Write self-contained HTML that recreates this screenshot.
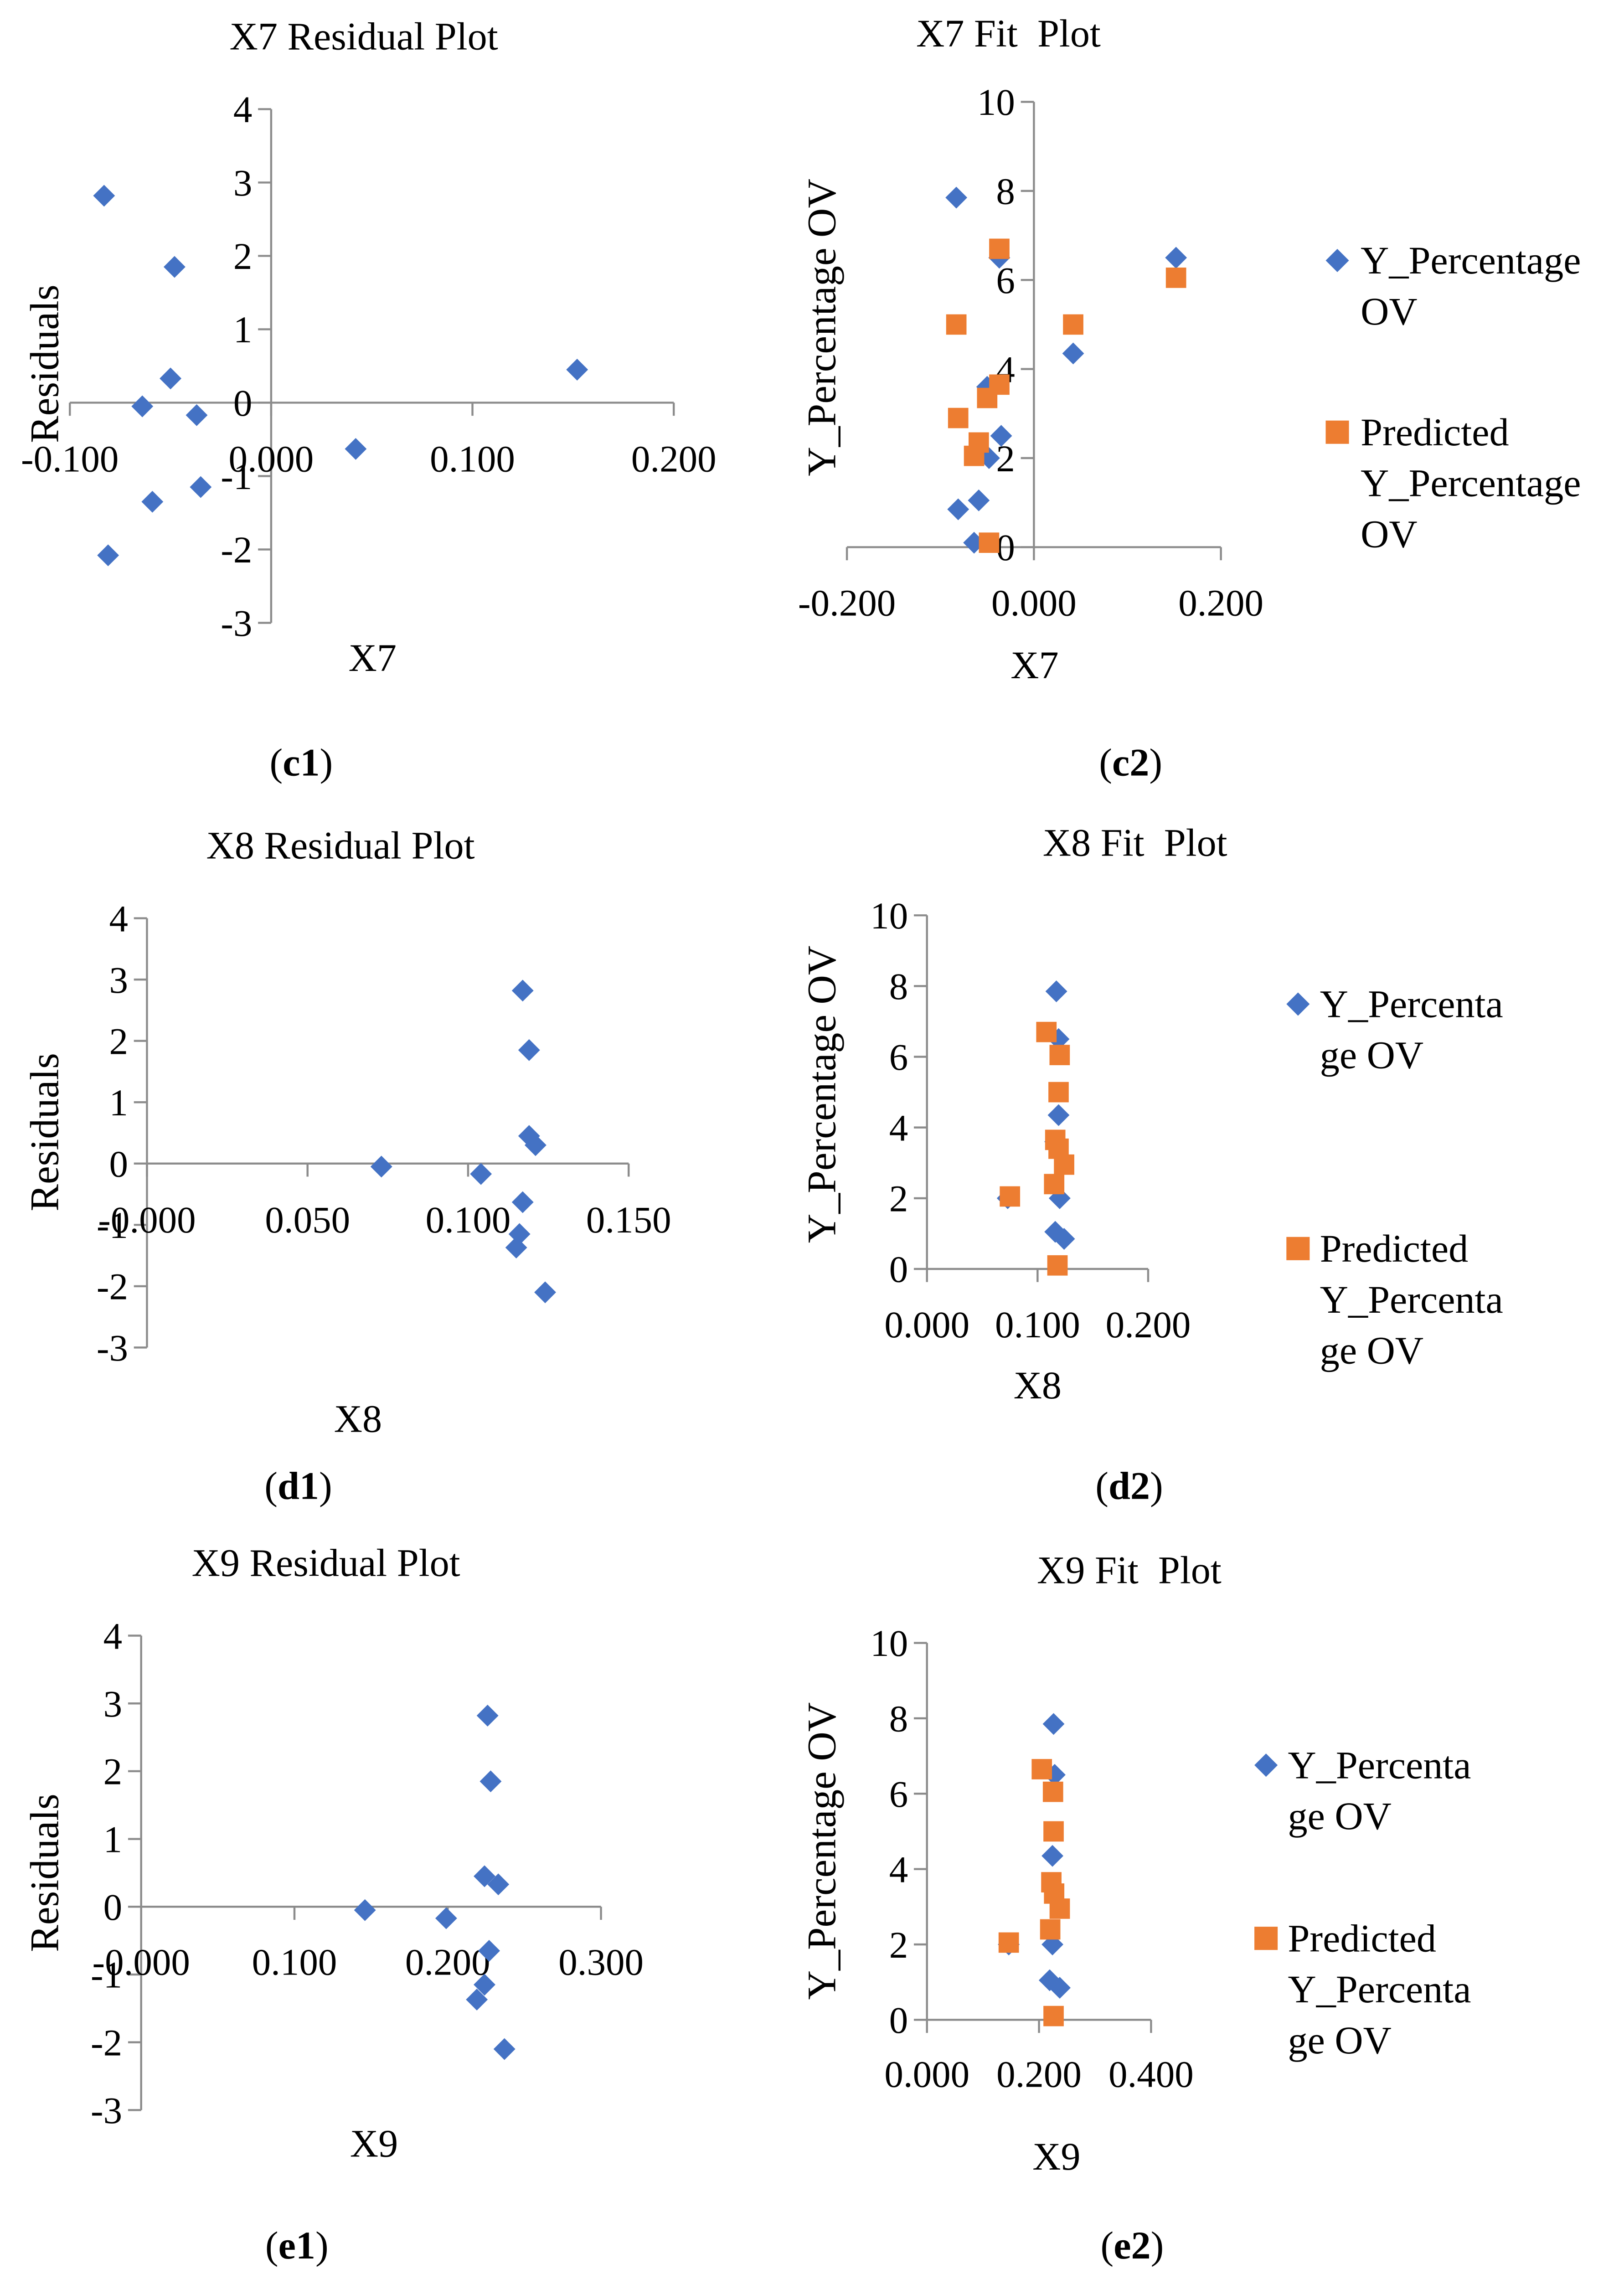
<!DOCTYPE html>
<html><head><meta charset="utf-8">
<style>html,body{margin:0;padding:0;background:#fff;width:3563px;height:5040px;overflow:hidden}svg{display:block}</style>
</head><body>
<svg id="fig" xmlns="http://www.w3.org/2000/svg" width="3563" height="5040" viewBox="0 0 1116 1578" preserveAspectRatio="xMinYMin meet" font-family="'Liberation Serif', serif">
<rect width="1116" height="1578" fill="#fff"/>
</svg>
<script>
// ---------- data ----------
const x7 = [-0.083,-0.048,-0.050,-0.064,-0.037,-0.035,-0.059,-0.081,0.152,0.042];
const x8 = [0.117,0.119,0.119,0.121,0.073,0.104,0.117,0.116,0.115,0.124];
const x9 = [0.226,0.228,0.224,0.233,0.146,0.199,0.227,0.224,0.219,0.237];
const residuals = [2.82,1.85,0.33,-0.05,-0.17,-1.15,-1.35,-2.08,0.45,-0.63];
const residuals8 = [2.82,1.85,0.45,0.30,-0.05,-0.17,-0.63,-1.15,-1.37,-2.10];
const residuals9 = [2.82,1.85,0.45,0.33,-0.05,-0.17,-0.65,-1.15,-1.37,-2.10];

const fit7X = [-0.083,-0.037,0.152,0.042,-0.050,-0.035,-0.048,-0.059,-0.081,-0.064];
const fit7Actual = [7.85,6.5,6.5,4.35,3.6,2.5,2.0,1.05,0.85,0.1];
const fit7PredX = [-0.083,-0.037,0.152,0.042,-0.050,-0.037,-0.081,-0.059,-0.064,-0.048];
const fit7Pred = [5.0,6.7,6.05,5.0,3.35,3.65,2.9,2.35,2.05,0.1];

const fit8X = [0.117,0.119,0.119,0.116,0.120,0.116,0.124,0.073];
const fit8Actual = [7.85,6.5,4.35,3.6,2.0,1.05,0.85,2.0];
const fit8PredX = [0.108,0.120,0.119,0.116,0.119,0.124,0.115,0.075,0.118];
const fit8Pred = [6.7,6.05,5.0,3.65,3.4,2.95,2.4,2.05,0.1];

const fit9X = [0.226,0.228,0.224,0.224,0.219,0.237,0.146];
const fit9Actual = [7.85,6.5,4.35,2.0,1.05,0.85,2.0];
const fit9PredX = [0.205,0.225,0.226,0.222,0.227,0.237,0.220,0.146,0.226];
const fit9Pred = [6.65,6.05,5.0,3.65,3.35,2.95,2.4,2.05,0.1];

const resTicks = ["4","3","2","1","0","-1","-2","-3"];
const fitTicks = ["10","8","6","4","2","0"];
const x7Ticks = ["-0.100","0.000","0.100","0.200"];
const x7FitTicks = ["-0.200","0.000","0.200"];
const x8Ticks = ["-0.000","0.050","0.100","0.150"];
const x8FitTicks = ["0.000","0.100","0.200"];
const x9Ticks = ["-0.000","0.100","0.200","0.300"];
const x9FitTicks = ["0.000","0.200","0.400"];

// ---------- drawing ----------
const NS="http://www.w3.org/2000/svg";
const svg=document.getElementById('fig');
const BLUE="#4472C4", ORANGE="#ED7D31", AX="#8C8C8C";
const FT=27, FK=26, FL=27;
function mk(tag,attrs,parent){const e=document.createElementNS(NS,tag);for(const k in attrs)e.setAttribute(k,attrs[k]);(parent||svg).appendChild(e);return e;}
function txt(s,x,y,size,anchor,parent,extra){const t=mk('text',Object.assign({x:x,y:y,'font-size':size,'text-anchor':anchor||'middle',fill:'#000'},extra||{}),parent);t.textContent=s;return t;}

function chart(c){
  const g=mk('g',{});
  
  
  const xs=v=>c.px0+(v-c.xmin)/(c.xmax-c.xmin)*(c.px1-c.px0);
  const ys=v=>c.py0+(v-c.ymin)/(c.ymax-c.ymin)*(c.py1-c.py0);
  const t=txt(c.title,c.titleX,c.titleY+1,FT,'middle',g);
  
  
  const ax0=xs(0), ay0=ys(0);
  const ya=mk('line',{x1:ax0,x2:ax0,y1:ys(c.ymax),y2:ys(c.ymin),stroke:AX,'stroke-width':1.4},g);
  
  
  const xa=mk('line',{x1:xs(c.xmin),x2:xs(c.xmax),y1:ay0,y2:ay0,stroke:AX,'stroke-width':1.4},g);
  
  
  c.yTicks.forEach((lab)=>{
    const v=parseFloat(lab), y=ys(v);
    mk('line',{x1:ax0-9,x2:ax0,y1:y,y2:y,stroke:AX,'stroke-width':1.4},g);
    const tl=txt(lab,ax0-13,y+9,FK,'end',g);
    
    
  });
  c.xTicks.forEach((lab)=>{
    const v=parseFloat(lab), x=xs(v);
    mk('line',{x1:x,x2:x,y1:ay0,y2:ay0+9,stroke:AX,'stroke-width':1.4},g);
    const tl=txt(lab,x,c.xLabY+1,FK,'middle',g);
    
    
  });
  const yt=txt(c.yTitle,0,0,28,'middle',g,{transform:`translate(${c.yTitleX+1},${c.yTitleY}) rotate(-90)`});
  
  
  const xt=txt(c.xTitle,c.xTitleX,c.xTitleY+1,FT,'middle',g);
  
  
  c.series.forEach(s=>{
    s.x.forEach((xv,i)=>{
      const px=xs(xv), py=ys(s.y[i]);
      let m;
      if(s.shape==='d'){m=mk('path',{d:`M${px} ${py-7.5}L${px+7.5} ${py}L${px} ${py+7.5}L${px-7.5} ${py}Z`,fill:s.color},g);}
      else{m=mk('rect',{x:px-7,y:py-7,width:14,height:14,fill:s.color},g);}
      
      
    });
  });
  const lab=txt('',c.capX,c.capY+1,FT,'middle',g);
  
  
  lab.appendChild(document.createTextNode('('));
  const b=mk('tspan',{'font-weight':'bold'},lab);b.textContent=c.cap;
  lab.appendChild(document.createTextNode(')'));
  if(c.legend){
    const lg=mk('g',{},g);
    
    
    const L=c.legend;
    const d=mk('path',{d:`M${L.mx} ${L.y1-8}L${L.mx+8} ${L.y1}L${L.mx} ${L.y1+8}L${L.mx-8} ${L.y1}Z`,fill:BLUE},lg);
    
    
    L.lines1.forEach((s,i)=>{const e=txt(s,L.tx,L.y1+9+i*35,FL,'start',lg);
      
      });
    const r=mk('rect',{x:L.mx-8,y:L.y2-8,width:16,height:16,fill:ORANGE},lg);
    
    
    L.lines2.forEach((s,i)=>{const e=txt(s,L.tx,L.y2+9+i*35,FL,'start',lg);
      
      });
  }
}

chart({name:'x7-residual-plot',title:'X7 Residual Plot',titleX:250,titleY:33,
  xmin:-0.1,xmax:0.2,px0:48,px1:463,ymin:4,ymax:-3,py0:75,py1:428,
  yTicks:resTicks,xTicks:x7Ticks,xLabY:323,yTitle:'Residuals',yTitleX:39,yTitleY:250,
  xTitle:'X7',xTitleX:256,xTitleY:460,cap:'c1',capX:207,capY:532,
  series:[{x:x7,y:residuals,shape:'d',color:BLUE,pointName:'residual-point'}]});
chart({name:'x7-fit-plot',title:'X7 Fit\u00a0\u00a0Plot',titleX:693,titleY:31,
  xmin:-0.2,xmax:0.2,px0:582,px1:839,ymin:10,ymax:0,py0:70,py1:376,
  yTicks:fitTicks,xTicks:x7FitTicks,xLabY:422,yTitle:'Y_Percentage OV',yTitleX:573,yTitleY:225,
  xTitle:'X7',xTitleX:711,xTitleY:465,cap:'c2',capX:777,capY:532,
  series:[{x:fit7X,y:fit7Actual,shape:'d',color:BLUE,pointName:'actual-point'},
          {x:fit7PredX,y:fit7Pred,shape:'s',color:ORANGE,pointName:'predicted-point'}],
  legend:{mx:919,tx:935,y1:179,y2:297,lines1:['Y_Percentage','OV'],lines2:['Predicted','Y_Percentage','OV']}});
chart({name:'x8-residual-plot',title:'X8 Residual Plot',titleX:234,titleY:589,
  xmin:0,xmax:0.15,px0:101,px1:432,ymin:4,ymax:-3,py0:631,py1:926,
  yTicks:resTicks,xTicks:x8Ticks,xLabY:846,yTitle:'Residuals',yTitleX:39,yTitleY:778,
  xTitle:'X8',xTitleX:246,xTitleY:983,cap:'d1',capX:205,capY:1029,
  series:[{x:x8,y:residuals8,shape:'d',color:BLUE,pointName:'residual-point'}]});
chart({name:'x8-fit-plot',title:'X8 Fit\u00a0\u00a0Plot',titleX:780,titleY:587,
  xmin:0,xmax:0.2,px0:637,px1:789,ymin:10,ymax:0,py0:629,py1:872,
  yTicks:fitTicks,xTicks:x8FitTicks,xLabY:918,yTitle:'Y_Percentage OV',yTitleX:573,yTitleY:752,
  xTitle:'X8',xTitleX:713,xTitleY:960,cap:'d2',capX:776,capY:1029,
  series:[{x:fit8X,y:fit8Actual,shape:'d',color:BLUE,pointName:'actual-point'},
          {x:fit8PredX,y:fit8Pred,shape:'s',color:ORANGE,pointName:'predicted-point'}],
  legend:{mx:892,tx:907,y1:690,y2:858,lines1:['Y_Percenta','ge OV'],lines2:['Predicted','Y_Percenta','ge OV']}});
chart({name:'x9-residual-plot',title:'X9 Residual Plot',titleX:224,titleY:1082,
  xmin:0,xmax:0.3,px0:97,px1:413,ymin:4,ymax:-3,py0:1124,py1:1450,
  yTicks:resTicks,xTicks:x9Ticks,xLabY:1356,yTitle:'Residuals',yTitleX:39,yTitleY:1287,
  xTitle:'X9',xTitleX:257,xTitleY:1481,cap:'e1',capX:204,capY:1551,
  series:[{x:x9,y:residuals9,shape:'d',color:BLUE,pointName:'residual-point'}]});
chart({name:'x9-fit-plot',title:'X9 Fit\u00a0\u00a0Plot',titleX:776,titleY:1087,
  xmin:0,xmax:0.4,px0:637,px1:791,ymin:10,ymax:0,py0:1129,py1:1388,
  yTicks:fitTicks,xTicks:x9FitTicks,xLabY:1433,yTitle:'Y_Percentage OV',yTitleX:573,yTitleY:1272,
  xTitle:'X9',xTitleX:726,xTitleY:1490,cap:'e2',capX:778,capY:1551,
  series:[{x:fit9X,y:fit9Actual,shape:'d',color:BLUE,pointName:'actual-point'},
          {x:fit9PredX,y:fit9Pred,shape:'s',color:ORANGE,pointName:'predicted-point'}],
  legend:{mx:870,tx:885,y1:1213,y2:1332,lines1:['Y_Percenta','ge OV'],lines2:['Predicted','Y_Percenta','ge OV']}});
</script>
</body></html>
